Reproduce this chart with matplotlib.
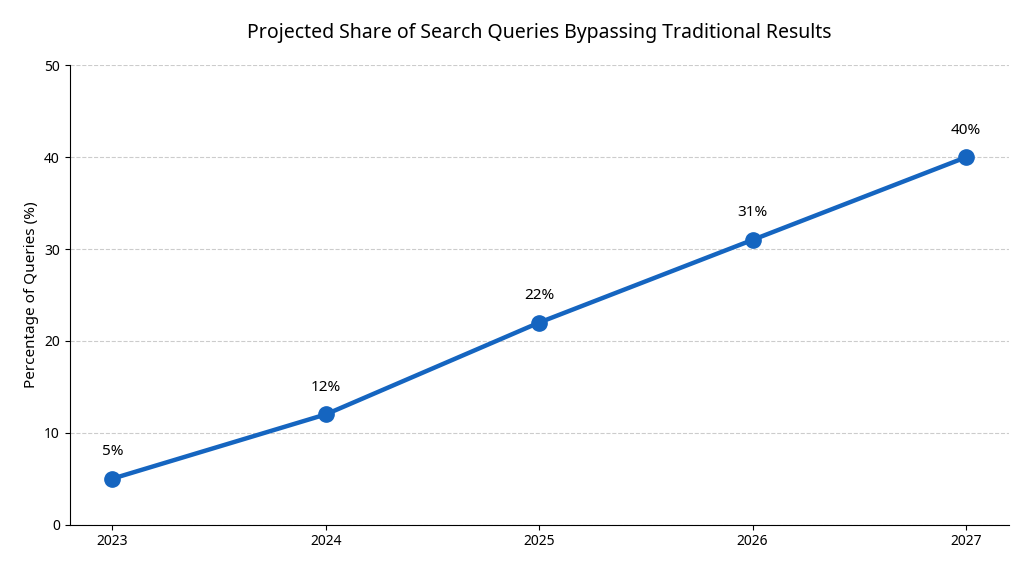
import matplotlib
matplotlib.use("Agg")
import matplotlib.pyplot as plt

plt.rcParams['font.family'] = ['Noto Sans', 'DejaVu Sans']

years = ["2023", "2024", "2025", "2026", "2027"]
values = [5, 12, 22, 31, 40]
labels = ["5%", "12%", "22%", "31%", "40%"]

fig, ax = plt.subplots(figsize=(10.24, 5.69), dpi=100)
fig.subplots_adjust(left=0.068, right=0.985, top=0.885, bottom=0.078)
x = list(range(len(years)))
ax.plot(x, values, color="#1565c0", linewidth=3.2, marker="o", markersize=11)
for xi, v, l in zip(x, values, labels):
    ax.annotate(l, (xi, v), xytext=(0, 14), textcoords="offset points",
                ha="center", va="bottom", fontsize=11, fontweight="bold")
ax.set_xticks(x)
ax.set_xticklabels(years)
ax.set_xlim(-0.2, 4.2)
ax.set_ylim(0, 50)
ax.set_yticks(range(0, 51, 10))
ax.set_ylabel("Percentage of Queries (%)", fontsize=11)
ax.set_title("Projected Share of Search Queries Bypassing Traditional Results", fontsize=14, pad=20)
ax.grid(axis="y", linestyle="--", color="#cccccc")
ax.set_axisbelow(True)
ax.spines["top"].set_visible(False)
ax.spines["right"].set_visible(False)
fig.savefig("out.png")
